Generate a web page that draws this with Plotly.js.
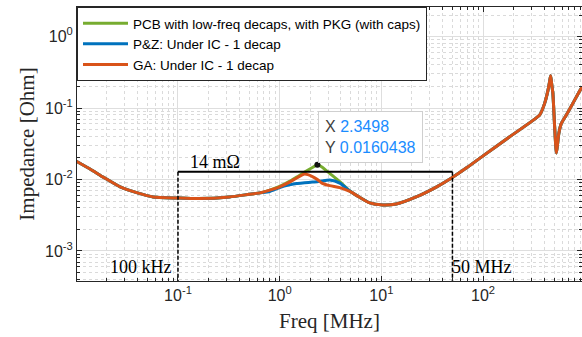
<!DOCTYPE html>
<html><head><meta charset="utf-8">
<script src="https://cdn.plot.ly/plotly-3.0.1.min.js"></script>
<style>html,body{margin:0;padding:0;overflow:hidden;background:#fff}</style>
</head><body><div id="chart" style="width:582px;height:337px"></div>
<script>
// Frequency grid in MHz
const freqMHz = [0.01, 0.014, 0.0184, 0.027, 0.04, 0.057, 0.1, 0.16, 0.32, 0.5, 0.64, 0.8, 1.0, 1.25, 1.47, 1.76, 2.1, 2.3498, 2.6, 3.1, 3.9, 4.9, 5.8, 7.7, 10.3, 14, 22, 35, 49, 70, 100, 180, 300, 361, 404, 436, 450, 462, 473, 486, 506, 526, 540, 556, 589, 659, 766, 926, 950];
// GA: Under IC - 1 decap
const zGA  = [0.0180, 0.0137, 0.0108, 0.0079, 0.0065, 0.0057, 0.0055, 0.0054, 0.0057, 0.0062, 0.0065, 0.0071, 0.0079, 0.0092, 0.0105, 0.0119, 0.0110, 0.0100, 0.0089, 0.0082, 0.0077, 0.0068, 0.0059, 0.0047, 0.0044, 0.00454, 0.0057, 0.0079, 0.0105, 0.0148, 0.0214, 0.039, 0.065, 0.080, 0.117, 0.179, 0.23, 0.283, 0.217, 0.16, 0.054, 0.0235, 0.031, 0.044, 0.061, 0.080, 0.117, 0.189, 0.193];
// P&Z: Under IC - 1 decap
const zPZ  = [0.0180, 0.0137, 0.0108, 0.0079, 0.0065, 0.0057, 0.0055, 0.0054, 0.0057, 0.0062, 0.0065, 0.0068, 0.0077, 0.0084, 0.0088, 0.0090, 0.0092, 0.0093, 0.0095, 0.0098, 0.0089, 0.0069, 0.0059, 0.0047, 0.0044, 0.00454, 0.0057, 0.0079, 0.0105, 0.0148, 0.0214, 0.039, 0.065, 0.080, 0.117, 0.179, 0.23, 0.283, 0.217, 0.16, 0.054, 0.0235, 0.031, 0.044, 0.061, 0.080, 0.117, 0.189, 0.193];
// PCB with low-freq decaps, with PKG (with caps)
const zPCB = [0.0180, 0.0137, 0.0108, 0.0079, 0.0065, 0.0057, 0.0055, 0.0054, 0.0057, 0.0062, 0.0065, 0.0071, 0.0080, 0.0094, 0.0108, 0.0127, 0.0147, 0.0160438, 0.0150, 0.0122, 0.0093, 0.0069, 0.0059, 0.0047, 0.0044, 0.00454, 0.0057, 0.0079, 0.0105, 0.0148, 0.0214, 0.039, 0.065, 0.080, 0.117, 0.179, 0.23, 0.283, 0.217, 0.16, 0.054, 0.0235, 0.031, 0.044, 0.061, 0.080, 0.117, 0.189, 0.193];
const seriesNames = ['PCB with low-freq decaps, with PKG (with caps)', 'P&Z: Under IC - 1 decap', 'GA: Under IC - 1 decap'];
const seriesColors = ['#77AC30', '#0072BD', '#D95319'];
// Data tip
const tipFreq = [2.3498];
const tipZ = [0.0160438];
// 14 mOhm band 100 kHz .. 50 MHz
const bandFreq = [0.1, 50];
const bandZ = [0.0128, 0.0128];
const bandFloor = 0.0001;
const xTickVals = [0.1, 1, 10, 100];
const xTickText = ['10<sup>-1</sup>', '10<sup>0</sup>', '10<sup>1</sup>', '10<sup>2</sup>'];
const yTickVals = [0.001, 0.01, 0.1, 1];
const yTickText = ['10<sup>-3</sup>', '10<sup>-2</sup>', '10<sup>-1</sup>', '10<sup>0</sup>'];

function minorVals(k0, k1) {
  const v = [];
  for (let k = k0; k <= k1; k++) for (let m = 2; m <= 9; m++) v.push(m * Math.pow(10, k));
  return v;
}

const ys = [zPCB, zPZ, zGA];
const traces = ys.map((z, i) => ({
  x: freqMHz, y: z, type: 'scatter', mode: 'lines', name: seriesNames[i],
  line: {color: seriesColors[i], width: 3, shape: 'spline', smoothing: 0.6},
  hoverinfo: 'skip'
}));
traces.push({x: bandFreq, y: bandZ, mode: 'lines', showlegend: false, hoverinfo: 'skip',
  line: {color: '#000', width: 2}});
traces.push({x: [bandFreq[0], bandFreq[0]], y: [bandZ[0], bandFloor], mode: 'lines', showlegend: false, hoverinfo: 'skip',
  line: {color: '#000', width: 1.5, dash: '4px,2px'}});
traces.push({x: [bandFreq[1], bandFreq[1]], y: [bandZ[1], bandFloor], mode: 'lines', showlegend: false, hoverinfo: 'skip',
  line: {color: '#000', width: 1.5, dash: '4px,2px'}});
traces.push({x: tipFreq, y: tipZ, mode: 'markers', showlegend: false, hoverinfo: 'skip',
  marker: {color: '#111', size: 6}});

const axisCommon = {
  type: 'log', showline: true, linecolor: '#262626', linewidth: 1, mirror: 'ticks',
  ticks: 'inside', ticklen: 5, tickcolor: '#262626', tickwidth: 1,
  tickmode: 'array', showgrid: true, gridcolor: '#dedede', gridwidth: 1, zeroline: false,
  tickfont: {family: 'Arial, Liberation Sans, sans-serif', size: 16, color: '#262626'},
  minor: {ticks: 'inside', ticklen: 3, tickcolor: '#262626', showgrid: true, gridcolor: '#dadada', griddash: 'dot', gridwidth: 1}
};

const layout = {
  width: 582, height: 337,
  margin: {l: 77, r: 0, t: 7, b: 56},
  paper_bgcolor: '#fff', plot_bgcolor: '#fff',
  showlegend: true,
  xaxis: Object.assign({}, axisCommon, {
    range: [-1.993, 2.973], tickvals: xTickVals, ticktext: xTickText,
    minor: Object.assign({}, axisCommon.minor, {tickmode: 'array', tickvals: minorVals(-2, 2)}),
    title: {text: 'Freq [MHz]', font: {family: 'Liberation Serif, Times New Roman, serif', size: 21, color: '#262626'}, standoff: 10}
  }),
  yaxis: Object.assign({}, axisCommon, {
    range: [-3.42, 0.413], tickvals: yTickVals, ticktext: yTickText,
    minor: Object.assign({}, axisCommon.minor, {tickmode: 'array', tickvals: minorVals(-4, 0)}),
    title: {text: 'Impedance [Ohm]', font: {family: 'Liberation Serif, Times New Roman, serif', size: 21, color: '#262626'}, standoff: 4}
  }),
  legend: {x: 0, y: 1, xanchor: 'left', yanchor: 'top', bgcolor: '#fff', bordercolor: '#262626', borderwidth: 1,
    font: {family: 'Arial, Liberation Sans, sans-serif', size: 13.5, color: '#000'}, itemwidth: 45, tracegroupgap: 0},
  annotations: [
    {xref: 'x', yref: 'y', x: Math.log10(0.23), y: Math.log10(bandZ[0]), xanchor: 'center', yanchor: 'bottom', showarrow: false,
     text: '14 mΩ', font: {family: 'Liberation Serif, Times New Roman, serif', size: 18, color: '#000'}, yshift: -2},
    {xref: 'x', yref: 'paper', x: Math.log10(bandFreq[0]), y: 0.051, xanchor: 'right', yanchor: 'middle', showarrow: false,
     text: '100 kHz', font: {family: 'Liberation Serif, Times New Roman, serif', size: 18, color: '#000'}, xshift: -4},
    {xref: 'x', yref: 'paper', x: Math.log10(bandFreq[1]), y: 0.051, xanchor: 'left', yanchor: 'middle', showarrow: false,
     text: '50 MHz', font: {family: 'Liberation Serif, Times New Roman, serif', size: 18, color: '#000'}, xshift: -2},
    {xref: 'x', yref: 'y', x: Math.log10(tipFreq[0]), y: Math.log10(tipZ[0]), xanchor: 'left', yanchor: 'bottom', showarrow: false,
     align: 'left', bgcolor: '#fff', bordercolor: '#cfcfcf', borderwidth: 1, borderpad: 6, xshift: 1, yshift: 2,
     font: {family: 'Arial, Liberation Sans, sans-serif', size: 16, color: '#404040'},
     text: 'X <span style="color:#1a8cff">' + tipFreq[0] + '</span><br>Y <span style="color:#1a8cff">' + tipZ[0] + '</span>'}
  ]
};

Plotly.newPlot('chart', traces, layout, {displayModeBar: false, staticPlot: true});
</script>
</body></html>
